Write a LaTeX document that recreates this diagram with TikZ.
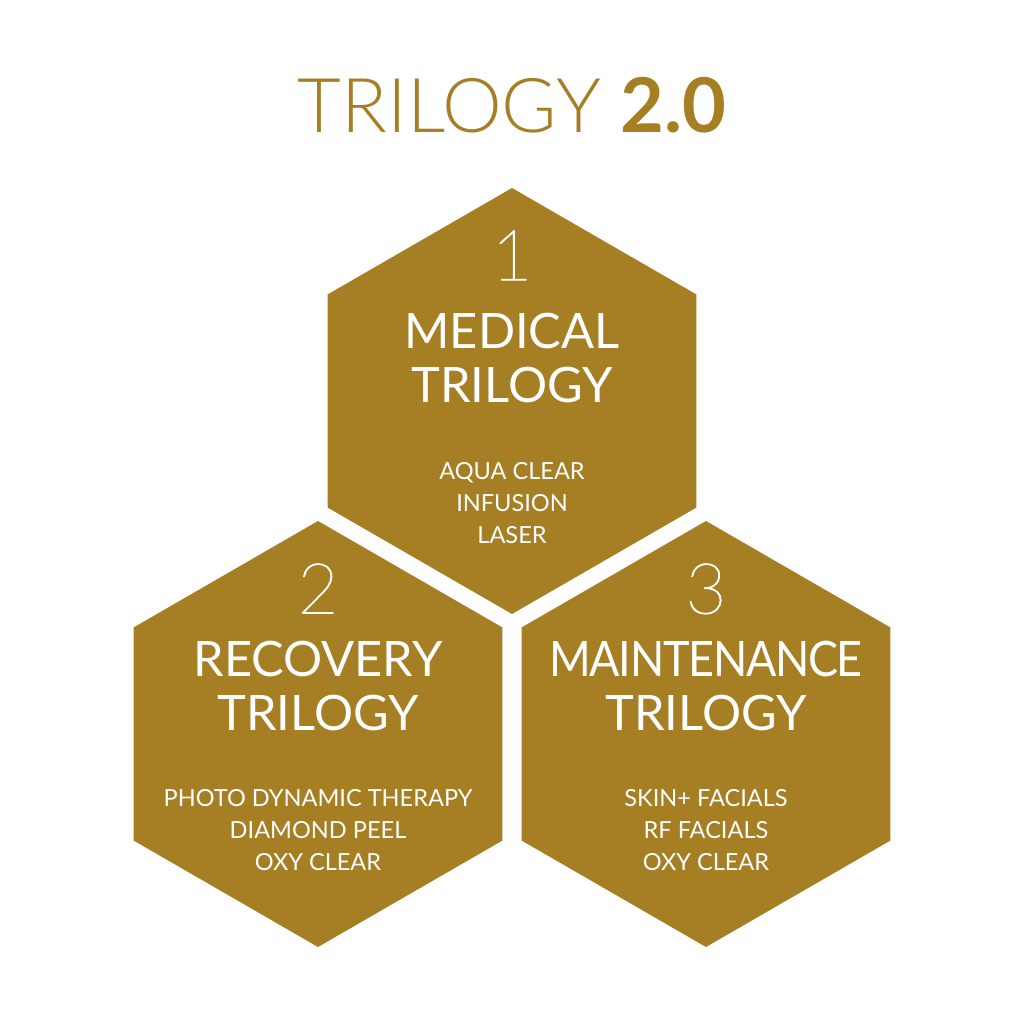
\documentclass[tikz,border=0pt]{standalone}
\usepackage{fontspec}
\setmainfont{Lato}
\newfontfamily\lightfont{Lato Light}
\newfontfamily\hairfont{Lato Hairline}[FakeBold=1.5]
\usetikzlibrary{shapes.geometric}
\definecolor{trigold}{RGB}{166,126,35}

\begin{document}
\begin{tikzpicture}[
  hexa/.style={regular polygon, regular polygon sides=6, shape border rotate=30,
               minimum size=4.26cm, inner sep=0pt, fill=trigold},
  num/.style={anchor=north, inner sep=0pt, text=white,
              font=\hairfont\fontsize{20}{20}\selectfont},
  head/.style={anchor=north, inner sep=0pt, text=white, align=center,
               font=\fontsize{13.9}{15.5}\selectfont},
  items/.style={anchor=north, inner sep=0pt, text=white, align=center,
                font=\fontsize{6.7}{9.1}\selectfont}
]
  \useasboundingbox (0,0) rectangle (10.24,10.24);

  \node[anchor=base, text=trigold, font=\fontsize{21.5}{21.5}\selectfont] (title) at (5.12,8.91)
    {{\lightfont TRILOGY} \textbf{2.0}};

  \node[hexa] (medical)     at (5.12,6.23) {};
  \node[hexa] (recovery)    at (3.18,2.90) {};
  \node[hexa] (maintenance) at (7.06,2.90) {};

  \node[num]   (n1)  at (5.12,7.94) {1};
  \node[head]  (h1)  at (5.12,7.12) {MEDICAL\\TRILOGY};
  \node[items] (i1)  at (5.12,5.62) {AQUA CLEAR\\INFUSION\\LASER};

  \node[num]   (n2)  at (3.18,4.61) {2};
  \node[head]  (h2)  at (3.18,3.84) {RECOVERY\\TRILOGY};
  \node[items] (i2)  at (3.18,2.35) {PHOTO DYNAMIC THERAPY\\DIAMOND PEEL\\OXY CLEAR};

  \node[num]   (n3)  at (7.06,4.61) {3};
  \node[head]  (h3)  at (7.06,3.84)
    {\scalebox{0.92}[1]{\addfontfeature{LetterSpace=-3}MAINTENANCE}\\TRILOGY};
  \node[items] (i3)  at (7.06,2.35) {SKIN+ FACIALS\\RF FACIALS\\OXY CLEAR};
\end{tikzpicture}
\end{document}
